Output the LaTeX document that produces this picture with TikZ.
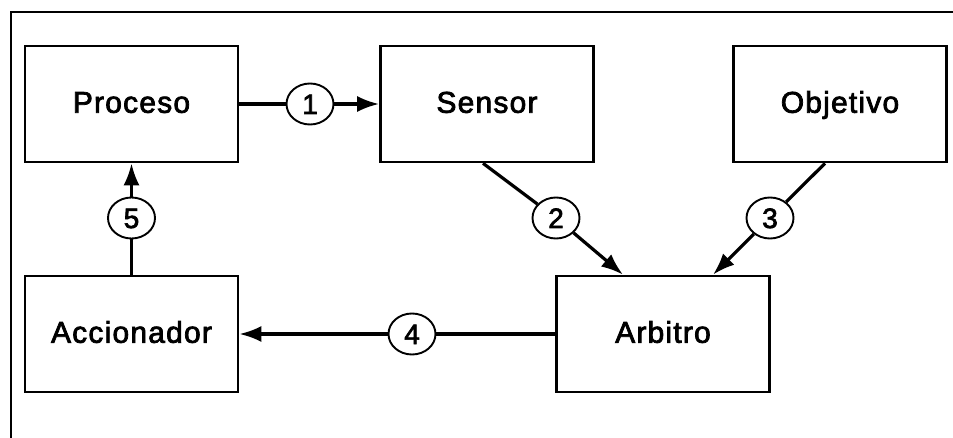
\documentclass[tikz,border=0pt]{standalone}
\usepackage{fontspec}
\setmainfont{Liberation Sans}
\newfontfamily\blockfont[FakeBold=2.5,LetterSpace=4]{Liberation Sans}
\newfontfamily\numfont[FakeBold=2.5]{Liberation Sans}
\usetikzlibrary{arrows.meta,shapes.geometric}

\begin{document}
\begin{tikzpicture}[
  x=1pt, y=-1pt,
  box/.style={draw, line width=2.6pt, minimum width=213pt, minimum height=116pt,
    inner sep=0pt, text height=21.5pt, text depth=4pt,
    font=\fontsize{30}{34}\blockfont},
  num/.style={ellipse, draw, line width=1.9pt, fill=white, minimum width=47pt,
    minimum height=41pt, inner sep=0pt, text height=20pt, text depth=0pt,
    font=\fontsize{28}{30}\numfont},
  line/.style={line width=3.2pt},
  arr/.style={line, -{Latex[length=22pt,width=16pt]}},
  frame/.style={line width=1.6pt},
]
\useasboundingbox (0,0) rectangle (953,438);

% outer frame (cut at right and bottom)
\draw[frame] (11,438) -- (11,12) -- (953,12);

% --- blocks ---
\node[box] (proceso)    at (131.5,104) {Proceso};
\node[box] (sensor)     at (487,104)   {Sensor};
\node[box] (objetivo)   at (840,104)   {Objetivo};
\node[box] (accionador) at (131.5,334) {Accionador};
\node[box] (arbitro)    at (663,334)   {Arbitro};

% --- numbered signals ---
\node[num] (n1) at (310,104) {1};
\node[num] (n2) at (556,218) {2};
\node[num] (n3) at (770,218) {3};
\node[num] (n4) at (412,334) {4};
\node[num] (n5) at (131.5,218) {5};

% end points on the block borders
\coordinate (s2) at ([xshift=-4pt]sensor.south);
\coordinate (a2) at ([xshift=-40pt]arbitro.north);
\coordinate (o3) at ([xshift=-15pt]objetivo.south);
\coordinate (a3) at ([xshift=50pt]arbitro.north);

% --- connectors ---
\draw[line] (proceso.east) -- (n1);
\draw[arr] (n1) -- (sensor.west);

\draw[line] (s2) -- (n2);
\draw[arr] (n2) -- (a2);

\draw[line] (o3) -- (n3);
\draw[arr] (n3) -- (a3);

\draw[line] (arbitro.west) -- (n4);
\draw[arr] (n4) -- (accionador.east);

\draw[line] (accionador.north) -- (n5);
\draw[arr] (n5) -- (proceso.south);

\end{tikzpicture}
\end{document}
